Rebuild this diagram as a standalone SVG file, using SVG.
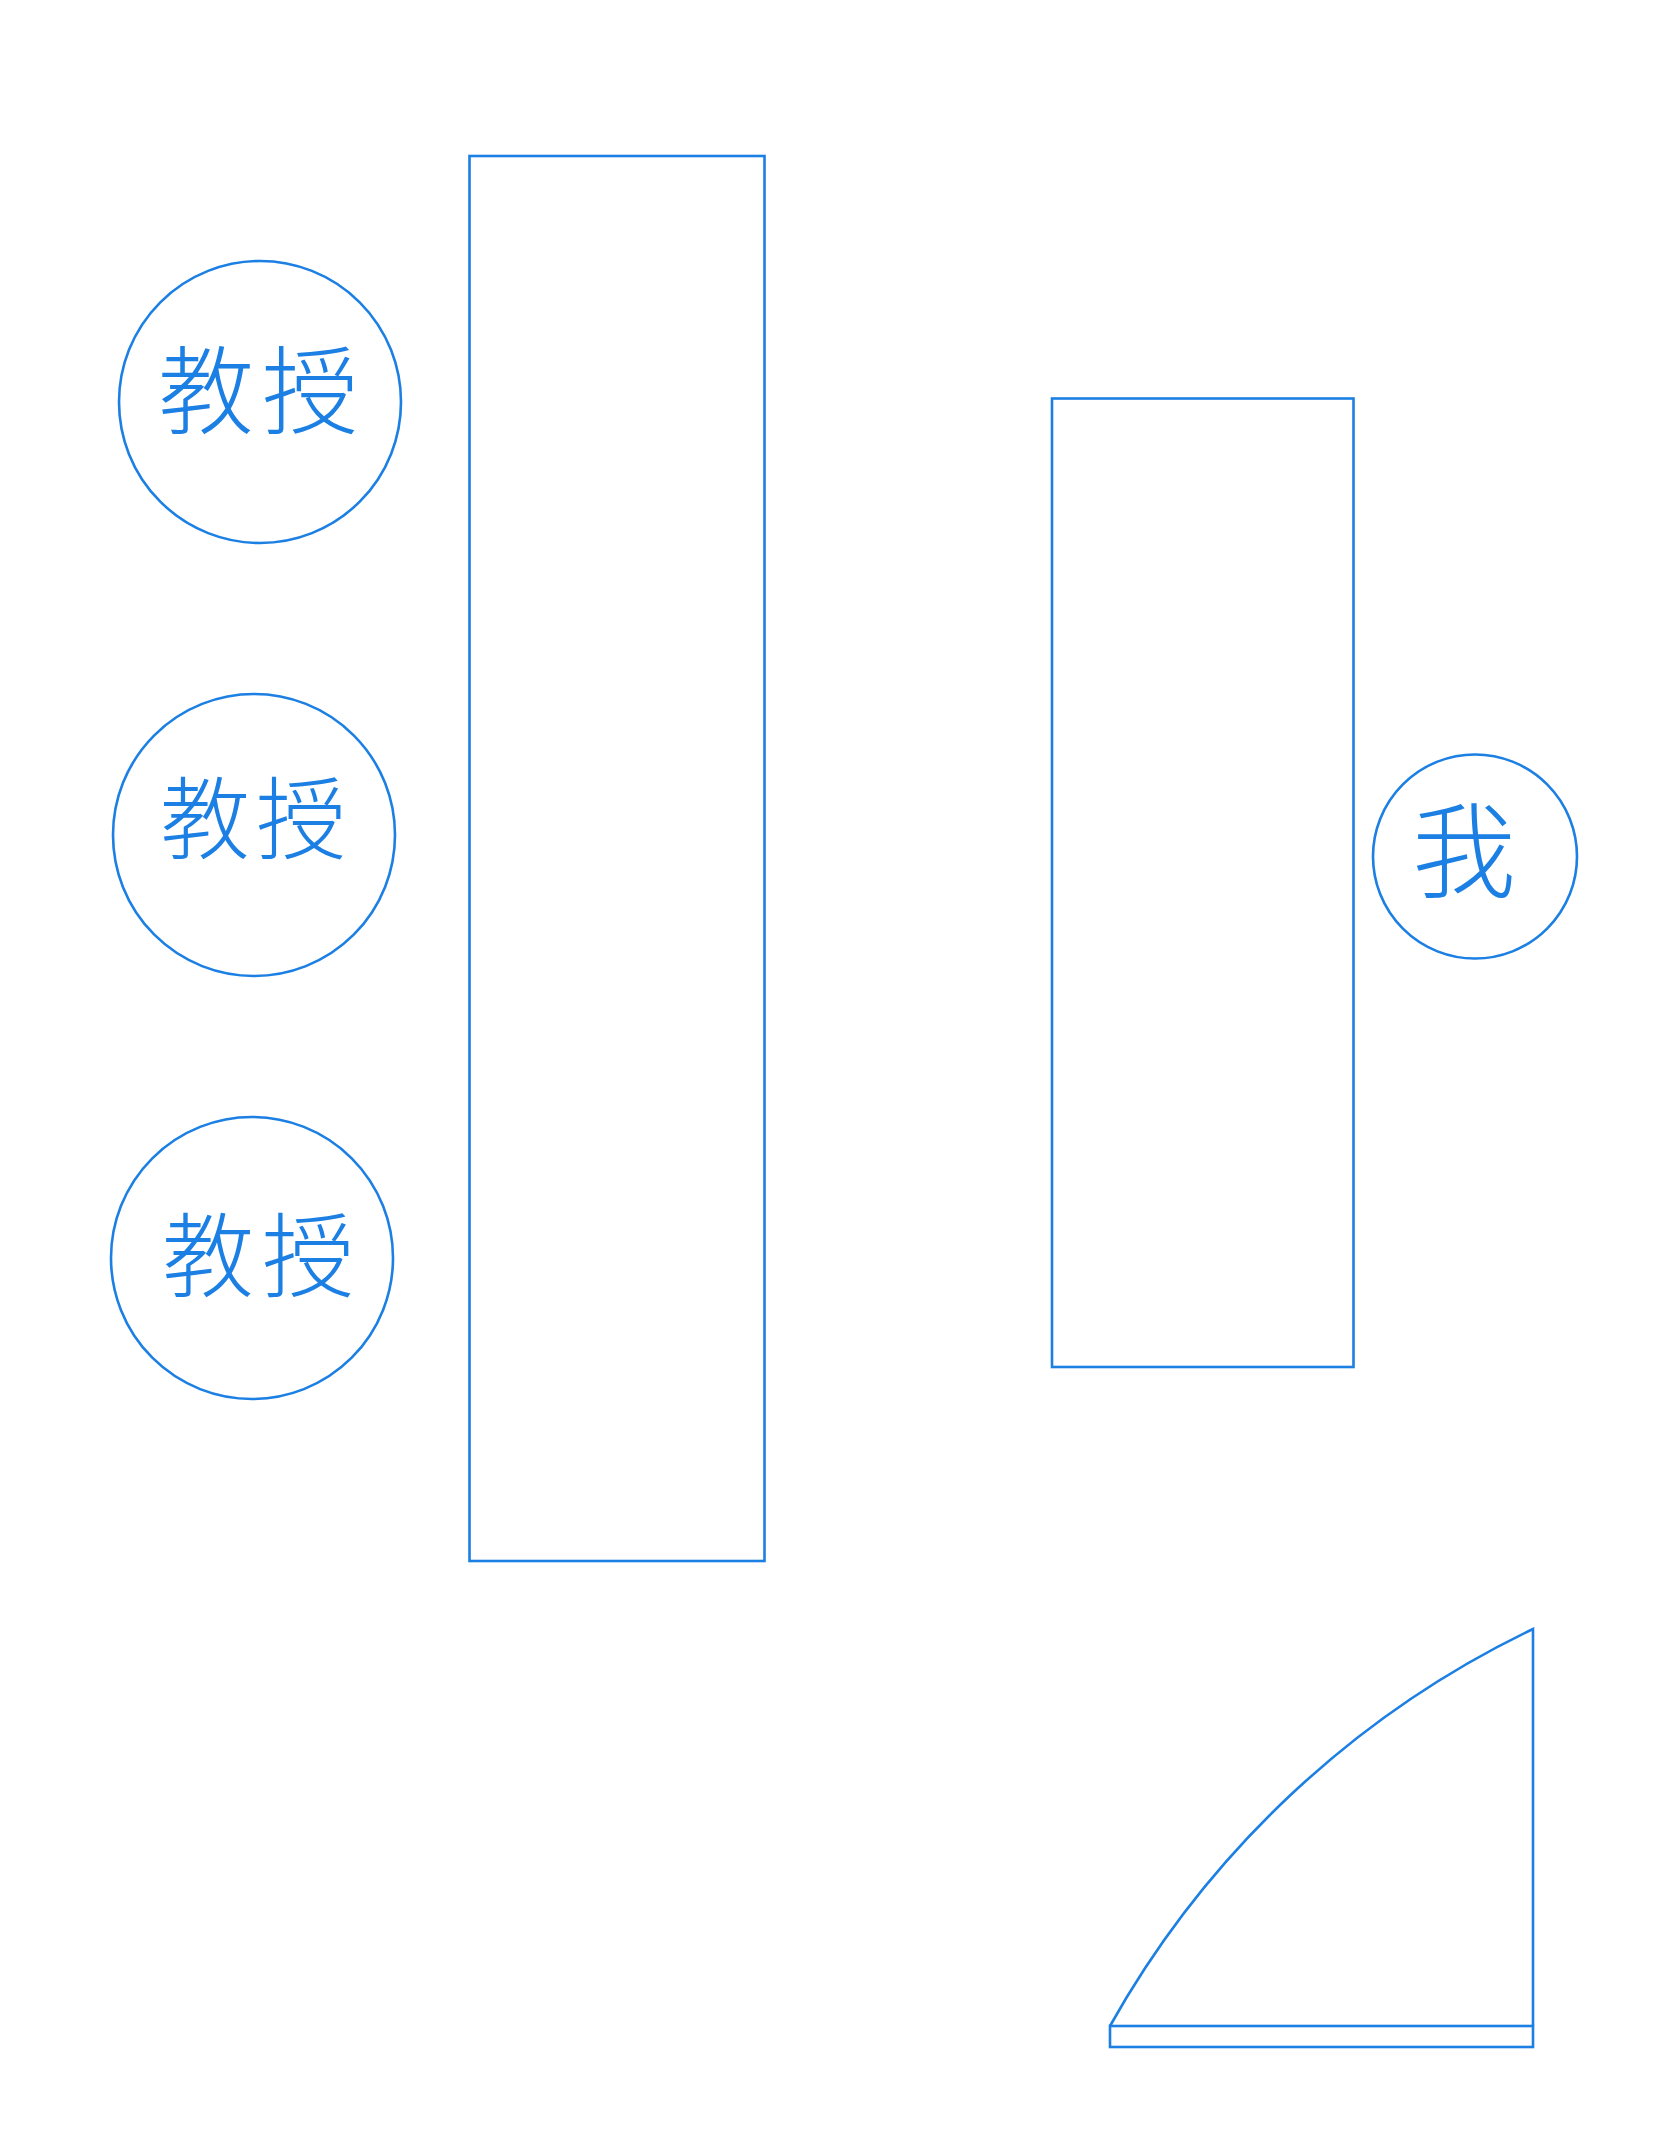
<svg xmlns="http://www.w3.org/2000/svg" width="1668" height="2154" viewBox="0 0 1668 2154">
<style>
.s{fill:none;stroke:#1b7fe3;stroke-width:2.6}
.t{fill:#1b7fe3;font-family:"Noto Sans CJK SC","Noto Sans CJK JP",sans-serif;font-weight:300;text-anchor:middle}
</style>
<rect width="1668" height="2154" fill="#ffffff"/>
<g id="table-left"><rect class="s" x="469.5" y="156" width="295" height="1405"/></g>
<g id="table-right"><rect class="s" x="1052" y="398.5" width="301.5" height="968.5"/></g>
<g id="prof1"><circle class="s" cx="260" cy="402" r="141"/><text class="t" x="262" y="426" font-size="96" letter-spacing="8">教授</text></g>
<g id="prof2"><circle class="s" cx="254" cy="835" r="141"/><text class="t" x="256" y="852" font-size="90" letter-spacing="6">教授</text></g>
<g id="prof3"><circle class="s" cx="252" cy="1258" r="141"/><text class="t" x="262" y="1290" font-size="92" letter-spacing="8">教授</text></g>
<g id="me"><circle class="s" cx="1475" cy="856.5" r="102"/><text class="t" x="1464" y="890" font-size="104">我</text></g>
<g id="door">
<path class="s" d="M1110,2026 A960,960 0 0,1 1533,1629 L1533,2026"/>
<rect class="s" x="1110" y="2026" width="423" height="21"/>
</g>
<g id="connectors"></g>
</svg>
